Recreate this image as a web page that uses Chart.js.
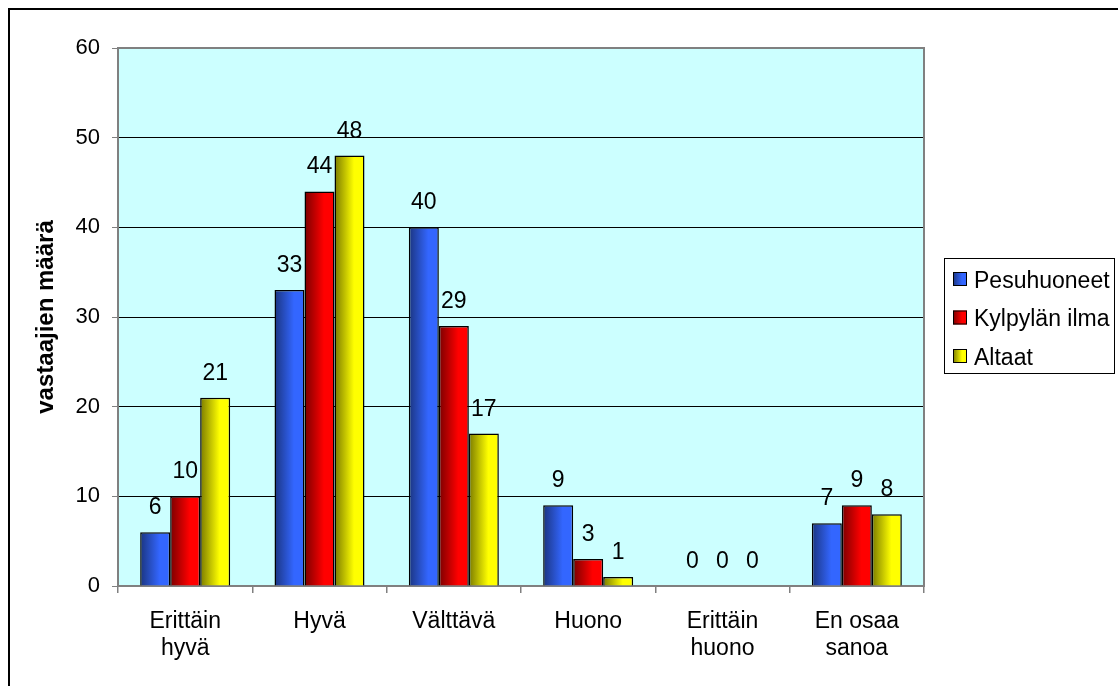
<!DOCTYPE html>
<html lang="fi">
<head>
<meta charset="utf-8">
<title>Vastaajien määrä</title>
<script src="https://cdn.jsdelivr.net/npm/chart.js@4/dist/chart.umd.min.js"></script>
<style>
  html, body { margin: 0; padding: 0; background: #fff; }
  #wrap { width: 1118px; height: 686px; position: relative; }
</style>
</head>
<body>
<div id="wrap"><canvas id="kaavio"></canvas></div>
<script>
// ── Data ──
const KATEGORIAT = [['Erittäin', 'hyvä'], 'Hyvä', 'Välttävä', 'Huono', ['Erittäin', 'huono'], ['En osaa', 'sanoa']];
const SARJAT = ['Pesuhuoneet', 'Kylpylän ilma', 'Altaat'];
const PESUHUONEET = [6, 33, 40, 9, 0, 7];
const KYLPYLAN_ILMA = [10, 44, 29, 3, 0, 9];
const ALTAAT = [21, 48, 17, 1, 0, 8];
const Y_TICKS = [0, 10, 20, 30, 40, 50, 60];
const AKSELIN_OTSIKKO = 'vastaajien määrä';

// ── Värit ──
const VARIT = [
    { tumma: '#1B3580', kirkas: '#3366FF' },
    { tumma: '#7A0000', kirkas: '#FF0000' },
    { tumma: '#7A7A00', kirkas: '#FFFF00' }
];
const TAUSTA = '#CCFFFF';
const HARMAA = '#808080';
const FONTTI = "'Liberation Sans', Arial, sans-serif";
const KAT_PROS = 0.67;

// liukuväri vasemmalta (tumma) oikealle (kirkas)
function liuku(ctx2d, vasen, leveys, vari) {
    const g = ctx2d.createLinearGradient(vasen, 0, vasen + leveys, 0);
    g.addColorStop(0, vari.tumma);
    g.addColorStop(0.65, vari.kirkas);
    g.addColorStop(1, vari.kirkas);
    return g;
}

function palkinVari(ctx) {
    const vari = VARIT[ctx.datasetIndex];
    const x = ctx.chart.scales.x;
    if (!x || ctx.type !== 'data') return vari.kirkas;
    const ryhma = (x.width / KATEGORIAT.length) * KAT_PROS;
    const lev = ryhma / SARJAT.length;
    const vasen = x.getPixelForValue(ctx.dataIndex) - ryhma / 2 + ctx.datasetIndex * lev;
    if (!isFinite(vasen) || !isFinite(lev) || lev <= 0) return vari.kirkas;   // ennen asettelua
    return liuku(ctx.chart.ctx, vasen, lev, vari);
}

const kehys = {
    id: 'kehys',
    beforeDraw(chart) {
        const { ctx, chartArea: a } = chart;
        ctx.save();
        ctx.fillStyle = '#fff';
        ctx.fillRect(0, 0, chart.width, chart.height);
        ctx.fillStyle = TAUSTA;
        ctx.fillRect(a.left, a.top, a.right - a.left, a.bottom - a.top);
        ctx.strokeStyle = '#000';
        ctx.lineWidth = 2;
        ctx.strokeRect(9, 9, chart.width + 50, chart.height + 50);
        ctx.restore();
    },
    beforeDatasetsDraw(chart) {
        const { ctx, chartArea: a } = chart;
        ctx.save();
        ctx.strokeStyle = HARMAA;
        ctx.lineWidth = 2;
        ctx.strokeRect(a.left, a.top, a.right - a.left, a.bottom - a.top);
        ctx.restore();
    },
    afterDatasetsDraw(chart) {
        // arvot palkkien yläpuolelle
        const ctx = chart.ctx;
        ctx.save();
        ctx.font = '23px ' + FONTTI;
        ctx.fillStyle = '#000';
        ctx.textAlign = 'center';
        ctx.textBaseline = 'alphabetic';
        chart.data.datasets.forEach((ds, i) => {
            chart.getDatasetMeta(i).data.forEach((el, j) => {
                ctx.fillText(String(ds.data[j]), el.x, el.y - 18);
            });
        });
        ctx.restore();
    },
    afterDraw(chart) {
        // selite laatikossa
        const ctx = chart.ctx;
        const L = 944, T = 258, W = 170, H = 115;
        ctx.save();
        ctx.fillStyle = '#fff';
        ctx.fillRect(L, T, W, H);
        ctx.strokeStyle = '#000';
        ctx.lineWidth = 1;
        ctx.strokeRect(L + 0.5, T + 0.5, W, H);
        ctx.font = '23px ' + FONTTI;
        ctx.textBaseline = 'alphabetic';
        chart.data.datasets.forEach((ds, i) => {
            const cy = 279 + i * 38.5;
            ctx.fillStyle = liuku(ctx, 953, 14, VARIT[i]);
            ctx.fillRect(953, cy - 7, 14, 14);
            ctx.strokeStyle = '#000';
            ctx.strokeRect(953.5, cy - 6.5, 13, 13);
            ctx.fillStyle = '#000';
            ctx.fillText(ds.label, 974, cy + 8.5);
        });
        ctx.restore();
    }
};

new Chart(document.getElementById('kaavio'), {
    type: 'bar',
    data: {
        labels: KATEGORIAT,
        datasets: [PESUHUONEET, KYLPYLAN_ILMA, ALTAAT].map((arvot, i) => ({
            label: SARJAT[i],
            data: arvot,
            backgroundColor: palkinVari,
            borderColor: '#000',
            borderWidth: 1.5,
            categoryPercentage: KAT_PROS,
            barPercentage: 1
        }))
    },
    options: {
        responsive: true,
        maintainAspectRatio: false,
        animation: false,
        layout: { padding: { left: 0, top: 48, right: 194, bottom: 0 } },
        plugins: {
            legend: { display: false },
            tooltip: { enabled: false }
        },
        scales: {
            x: {
                afterFit: (s) => { s.height = 100; },
                grid: {
                    offset: true,
                    drawOnChartArea: false,
                    drawTicks: true,
                    tickLength: 7,
                    color: HARMAA,
                    lineWidth: 1.5
                },
                border: { display: false },
                ticks: {
                    color: '#000',
                    padding: 15,
                    maxRotation: 0,
                    autoSkip: false,
                    font: { family: FONTTI, size: 23, lineHeight: 1.18 }
                }
            },
            y: {
                min: 0,
                max: 60,
                afterFit: (s) => { s.width = 118; },
                afterBuildTicks: (s) => { s.ticks = Y_TICKS.map(v => ({ value: v })); },
                grid: {
                    color: (c) => (c.tick && (c.tick.value === 0 || c.tick.value === 60)) ? HARMAA : '#000',
                    lineWidth: 1,
                    tickColor: HARMAA,
                    tickLength: 6
                },
                border: { display: false },
                ticks: {
                    color: '#000',
                    padding: 12,
                    font: { family: FONTTI, size: 22 }
                },
                title: {
                    display: true,
                    text: AKSELIN_OTSIKKO,
                    color: '#000',
                    padding: { top: 32, bottom: 0 },
                    font: { family: FONTTI, size: 24, weight: 'bold' }
                }
            }
        }
    },
    plugins: [kehys]
});
</script>
</body>
</html>
